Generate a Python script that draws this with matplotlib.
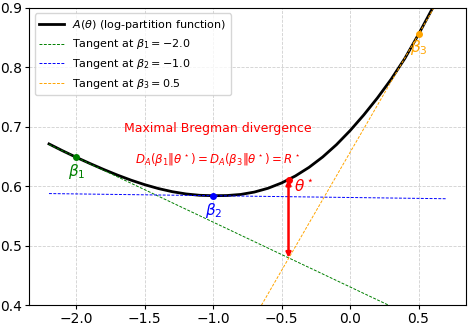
import matplotlib
matplotlib.use("Agg")
import matplotlib.pyplot as plt
import numpy as np

# log-partition curve at steps of 0.1
theta = [-2.2, -2.1, -2.0, -1.9, -1.8, -1.7, -1.6, -1.5, -1.4, -1.3,
         -1.2, -1.1, -1.0, -0.9, -0.8, -0.7, -0.6, -0.5, -0.4, -0.3,
         -0.2, -0.1, 0.0, 0.1, 0.2, 0.3, 0.4, 0.5, 0.6, 0.7]
A_vals = [0.6711, 0.6595, 0.6485, 0.6381, 0.6281, 0.6187, 0.6101, 0.6025,
          0.5960, 0.5908, 0.5870, 0.5847, 0.5840, 0.5843, 0.5861, 0.5901,
          0.5965, 0.6055, 0.6172, 0.6317, 0.6492, 0.6698, 0.6935, 0.7199,
          0.7486, 0.7799, 0.8150, 0.8555, 0.8985, 0.9430]

# tangent points
betas = [-2.0, -1.0, 0.5]
A_betas = [0.6485, 0.5840, 0.8555]
slopes = [-0.109, -0.003, 0.397]
beta_colors = ['green', 'blue', 'orange']
beta_names = ['\\beta_1', '\\beta_2', '\\beta_3']

theta_star = -0.45
A_star = 0.611


def main():
    fig, ax = plt.subplots(figsize=(4.7, 3.27), dpi=100)
    fig.subplots_adjust(left=0.062, right=0.991, top=0.976, bottom=0.067)

    th = np.array(theta)
    ax.plot(th, A_vals, color='black', lw=2,
            label=r'$A(\theta)$ (log-partition function)')

    for b, ab, s, c, name in zip(betas, A_betas, slopes, beta_colors, beta_names):
        ax.plot(th, ab + s * (th - b), color=c, lw=0.7, ls=(0, (3, 1.5)),
                label=r'Tangent at $%s = %.1f$' % (name, b))
        ax.plot(b, ab, 'o', color=c, ms=4)

    # beta labels
    ax.text(betas[0], A_betas[0] - 0.024, r'$\beta_1$', color='green',
            fontsize=11, ha='center', va='center')
    ax.text(betas[1], A_betas[1] - 0.025, r'$\beta_2$', color='blue',
            fontsize=11, ha='center', va='center')
    ax.text(betas[2], A_betas[2] - 0.023, r'$\beta_3$', color='orange',
            fontsize=11, ha='center', va='center')

    # maximal divergence arrow at theta*
    low = A_betas[0] + slopes[0] * (theta_star - betas[0])
    ax.annotate('', xy=(theta_star, A_star), xytext=(theta_star, low),
                arrowprops=dict(arrowstyle='<|-|>', color='red', lw=1.8,
                                mutation_scale=7, shrinkA=0, shrinkB=0))
    ax.plot(theta_star, A_star, 'o', color='red', ms=4)
    ax.text(theta_star + 0.04, A_star - 0.01, r'$\theta^\star$', color='red',
            fontsize=11, ha='left', va='center')

    ax.text(-0.97, 0.697, 'Maximal Bregman divergence', color='red',
            fontsize=9, ha='center', va='center')
    ax.text(-0.97, 0.645,
            r'$D_A(\beta_1\|\theta^\star) = D_A(\beta_3\|\theta^\star) = R^\star$',
            color='red', fontsize=8.5, ha='center', va='center')

    ax.set_ylim(0.4, 0.9)
    ax.set_xticks([-2.0, -1.5, -1.0, -0.5, 0.0, 0.5])
    ax.set_yticks([0.4, 0.5, 0.6, 0.7, 0.8, 0.9])
    ax.tick_params(labelsize=10, length=3, pad=2)
    ax.grid(True, color='#d0d0d0', lw=0.6, ls='--')
    ax.legend(loc='upper left', fontsize=8, handlelength=2.2)

    fig.savefig('out.png')


if __name__ == "__main__":
    main()
